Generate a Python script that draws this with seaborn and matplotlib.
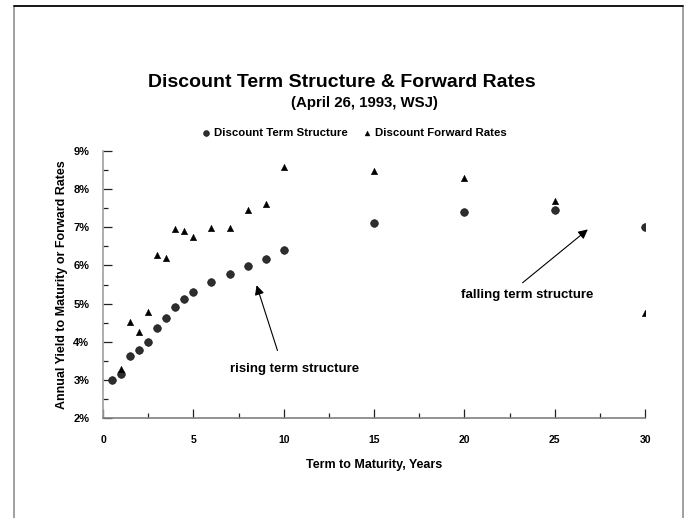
"""
discount term structure vs forward rates, WSJ April 26 1993
"""

import numpy as np
import pandas as pd
import matplotlib
matplotlib.use('Agg')
import matplotlib.pyplot as plt
from matplotlib.ticker import MultipleLocator, PercentFormatter
from matplotlib.patches import Rectangle
import seaborn as sns

# years to maturity
spot_maturity = [0.5, 1, 1.5, 2, 2.5, 3, 3.5, 4, 4.5, 5, 6, 7, 8, 9, 10, 15, 20, 25, 30]
spot_rate = [3.00, 3.16, 3.63, 3.79, 3.99, 4.36, 4.62, 4.92, 5.12, 5.30,
             5.57, 5.77, 5.98, 6.17, 6.40, 7.10, 7.40, 7.45, 7.00]

fwd_maturity = [1, 1.5, 2, 2.5, 3, 3.5, 4, 4.5, 5, 6, 7, 8, 9, 10, 15, 20, 25, 30]
fwd_rate = [3.29, 4.53, 4.25, 4.78, 6.28, 6.19, 6.96, 6.90, 6.74, 6.98,
            6.98, 7.46, 7.62, 8.57, 8.47, 8.30, 7.70, 4.75]

x_ticks = [0, 5, 10, 15, 20, 25, 30]
y_ticks = [2, 3, 4, 5, 6, 7, 8, 9]

spot = pd.DataFrame({'maturity': spot_maturity, 'rate': spot_rate})
fwd = pd.DataFrame({'maturity': fwd_maturity, 'rate': fwd_rate})

sns.set_theme(style='white')
plt.rcParams['font.family'] = ['Liberation Sans', 'DejaVu Sans']
plt.rcParams['font.weight'] = 'bold'
plt.rcParams['text.color'] = 'black'
plt.rcParams['axes.labelcolor'] = 'black'
plt.rcParams['xtick.color'] = 'black'
plt.rcParams['ytick.color'] = 'black'

fig = plt.figure(figsize=(6.87, 5.18), dpi=100)
ax = fig.add_axes([0.15, 0.193, 0.789, 0.5155])

sns.scatterplot(data=spot, x='maturity', y='rate', marker='o', s=30,
                color='#2e2e2e', edgecolor='#1a1a1a', linewidth=0.5,
                label='Discount Term Structure', ax=ax, legend=False)
sns.scatterplot(data=fwd, x='maturity', y='rate', marker='^', s=22,
                color='black', edgecolor='black', linewidth=0.3,
                label='Discount Forward Rates', ax=ax, legend=False)

ax.set_xlim(0, 30)
ax.set_ylim(2, 9)
ax.set_xticks(x_ticks)
ax.set_yticks(y_ticks)
ax.xaxis.set_minor_locator(MultipleLocator(2.5))
ax.yaxis.set_minor_locator(MultipleLocator(0.5))
ax.yaxis.set_major_formatter(PercentFormatter(decimals=0))
ax.tick_params(which='major', direction='in', length=6.5, width=0.9,
               color='#222222', bottom=True, left=True)
ax.tick_params(which='minor', direction='in', length=3.6, width=0.9,
               color='#222222', bottom=True, left=True)
ax.tick_params(axis='x', pad=12, labelsize=7.5)
ax.tick_params(axis='y', pad=10, labelsize=8)
for lab in ax.get_xticklabels() + ax.get_yticklabels():
    lab.set_fontweight('bold')

sns.despine(ax=ax)
ax.spines['left'].set_color('#a0a0a0')
ax.spines['bottom'].set_color('#808080')
ax.spines['left'].set_linewidth(1.2)
ax.spines['bottom'].set_linewidth(1.2)

ax.set_xlabel('Term to Maturity, Years', fontsize=9, fontweight='bold', labelpad=10)
ax.set_ylabel('Annual Yield to Maturity or Forward Rates', fontsize=9,
              fontweight='bold', labelpad=4)

arrow = dict(arrowstyle='-|>', color='black', lw=0.8, mutation_scale=14)
ax.annotate('', xy=(8.45, 5.55), xytext=(9.7, 3.7), arrowprops=arrow)
ax.text(10.6, 3.29, 'rising term structure', ha='center', va='center',
        fontsize=9.5, fontweight='bold')
ax.annotate('', xy=(26.95, 6.99), xytext=(23.1, 5.5), arrowprops=arrow)
ax.text(23.5, 5.23, 'falling term structure', ha='center', va='center',
        fontsize=9.5, fontweight='bold')

fig.text(0.498, 0.841, 'Discount Term Structure & Forward Rates',
         ha='center', va='center', fontsize=14, fontweight='bold')
fig.text(0.53, 0.801, '(April 26, 1993, WSJ)', ha='center', va='center',
         fontsize=10.8, fontweight='bold')

handles, labels = ax.get_legend_handles_labels()
leg = fig.legend(handles, labels, loc='center', bbox_to_anchor=(0.515, 0.743),
                 ncol=2, frameon=False, fontsize=8.2, handletextpad=0.2,
                 columnspacing=1.2, markerscale=0.75, handlelength=1.0)
for t in leg.get_texts():
    t.set_fontweight('bold')

# page border
fig.add_artist(Rectangle((14 / 687, -0.05), 669 / 687, 1.05 - 6 / 518,
                         transform=fig.transFigure, fill=False,
                         edgecolor='#909090', lw=1.2, clip_on=False))
fig.add_artist(plt.Line2D([14 / 687, 683 / 687], [1 - 6 / 518, 1 - 6 / 518],
                          transform=fig.transFigure, color='black', lw=1.2))

fig.savefig('out.png', dpi=100)
